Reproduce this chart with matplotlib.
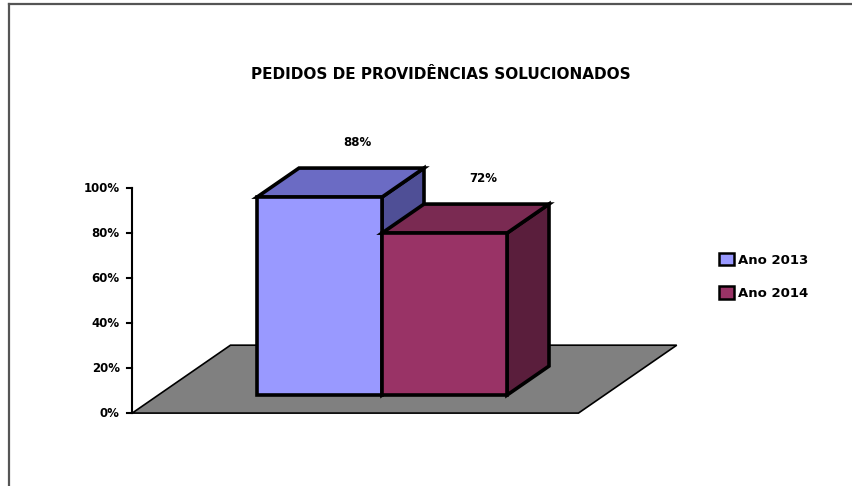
import matplotlib
matplotlib.use("Agg")
import matplotlib.pyplot as plt
from matplotlib.patches import Polygon, Patch
from matplotlib.lines import Line2D

# Data
title = "PEDIDOS DE PROVIDÊNCIAS SOLUCIONADOS"
series = ["Ano 2013", "Ano 2014"]
values = [88, 72]
value_labels = ["88%", "72%"]
yticks = [0, 20, 40, 60, 80, 100]
ytick_labels = ["0%", "20%", "40%", "60%", "80%", "100%"]

# colours: front, top, side
colors = [("#9999ff", "#6b6bc4", "#4f4f96"),
          ("#993366", "#7a2a52", "#5a1e3c")]

# fake 3d projection: depth shift in data units (x = bar widths, y = percent)
KX, KY = 0.336, 12.9
FLOOR_D0, FLOOR_D1 = -0.62, 1.72
FLOOR_X0, FLOOR_X1 = -0.79, 2.78


def proj(x, y, d):
    return (x + d * KX, y + d * KY)


fig = plt.figure(figsize=(8.52, 4.86), dpi=100)
ax = fig.add_axes([0, 0, 1, 1])
ax.set_xlim(-2.056, 4.76)
ax.set_ylim(-40.4, 175.6)
ax.axis("off")

# outer chart border (only top and left visible)
fig.add_artist(Line2D([0.0100, 0.0100], [0, 0.991], transform=fig.transFigure,
                      color="#555555", lw=1.6))
fig.add_artist(Line2D([0.0100, 1.0], [0.991, 0.991], transform=fig.transFigure,
                      color="#555555", lw=1.6))

# floor
floor = [proj(FLOOR_X0, 0, FLOOR_D0), proj(FLOOR_X0, 0, FLOOR_D1),
         proj(FLOOR_X1, 0, FLOOR_D1), proj(FLOOR_X1, 0, FLOOR_D0)]
ax.add_patch(Polygon(floor, closed=True, facecolor="#808080",
                     edgecolor="black", lw=1.2, zorder=1))

# value axis at the front-left corner of the floor
ax_x, _ = proj(FLOOR_X0, 0, FLOOR_D0)
y_off = FLOOR_D0 * KY
ax.plot([ax_x, ax_x], [y_off, y_off + 100], color="black", lw=1.5, zorder=2)
for t, lab in zip(yticks, ytick_labels):
    ax.plot([ax_x - 0.04, ax_x], [t + y_off, t + y_off], color="black", lw=1.5, zorder=2)
    ax.text(ax_x - 0.1, t + y_off, lab, ha="right", va="center",
            fontsize=8.5, fontweight="bold", family="DejaVu Sans")

# bars
for i, (v, (cf, ct, cs)) in enumerate(zip(values, colors)):
    x0, x1 = i, i + 1
    front = [proj(x0, 0, 0), proj(x0, v, 0), proj(x1, v, 0), proj(x1, 0, 0)]
    top = [proj(x0, v, 0), proj(x0, v, 1), proj(x1, v, 1), proj(x1, v, 0)]
    side = [proj(x1, 0, 0), proj(x1, v, 0), proj(x1, v, 1), proj(x1, 0, 1)]
    for pts, c in [(side, cs), (top, ct), (front, cf)]:
        ax.add_patch(Polygon(pts, closed=True, facecolor=c, edgecolor="black",
                             lw=2.6, joinstyle="miter", zorder=3 + i))
    lx, ly = proj(x0 + 0.5, v + 11.5, 1)
    ax.text(lx - 0.03, ly, value_labels[i], ha="center", va="center",
            fontsize=8.5, fontweight="bold", family="DejaVu Sans", zorder=10)

# title
fig.text(0.517, 0.847, title, ha="center", va="center",
         fontsize=11, fontweight="bold", family="DejaVu Sans")

# legend
handles = [Patch(facecolor=c[0], edgecolor="black", lw=1.8) for c in colors]
fig.legend(handles, series, loc="center left", bbox_to_anchor=(0.83, 0.431),
           frameon=False, prop={"family": "DejaVu Sans", "weight": "bold", "size": 9.5},
           handlelength=1.1, handleheight=1.1, handletextpad=0.3, labelspacing=1.5)

fig.savefig("out.png", dpi=100)
